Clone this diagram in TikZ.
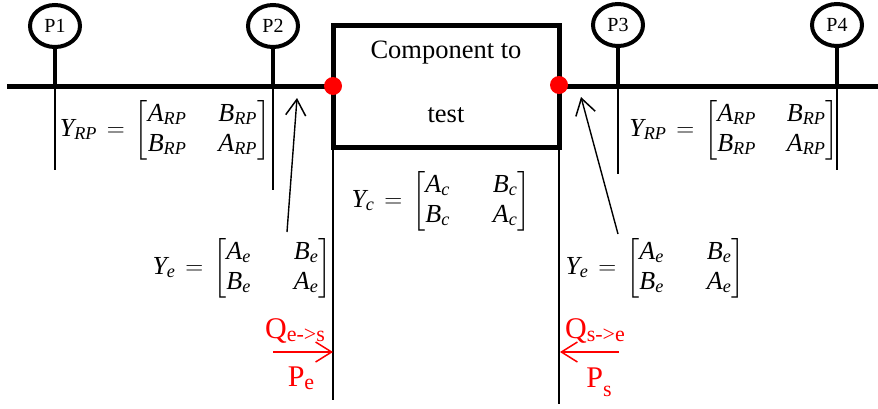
\documentclass[tikz,border=0pt]{standalone}
\usepackage{amsmath}
\usepackage{fontspec}
\setmainfont{Liberation Serif}
\usepackage{tikz}
\usetikzlibrary{arrows.meta,shapes.geometric}
\tikzset{
    port/.style={draw,ellipse,line width=4pt,fill=white,minimum width=50pt,minimum height=42pt,inner sep=0pt,font=\fontsize{20}{24}\selectfont},
    bus/.style={line width=5pt},
    stem/.style={line width=4pt},
    wire/.style={line width=1.4pt},
    junction/.style={circle,fill=red,minimum size=18pt,inner sep=0pt},
    eqn/.style={inner sep=0pt,font=\fontsize{26}{30}\selectfont},
    flow/.style={text=red,inner sep=0pt},
    lbl/.style={inner sep=0pt,font=\fontsize{26.5}{30}\selectfont}
}
\newcommand{\mv}[1]{\text{\itshape #1}}
\newcommand{\flowlbl}[3]{\fontsize{30}{34}\selectfont #1\fontsize{22}{26}\selectfont\raisebox{#3}{#2}}
\newcommand{\ymat}[2]{$\mv{Y}_{\mv{#1}}\hspace{3pt}=\hspace{3pt}\left[\begin{matrix} \mv{A}_{\mv{#1}} & \hspace{#2}\mv{B}_{\mv{#1}}\\ \mv{B}_{\mv{#1}} & \hspace{#2}\mv{A}_{\mv{#1}}\end{matrix}\right]$}
\begin{document}
\begin{tikzpicture}[x=1pt,y=-1pt,>={Straight Barb[length=16pt,width=20pt,line width=1.5pt]}]
        \useasboundingbox (0,0) rectangle (878,408);
        % bus
        \coordinate (busL) at (7,86);
        \coordinate (busR) at (878,86);
        \draw[bus] (busL) -- (busR);
        % component
        \draw[line width=5pt,fill=white] (333,25) rectangle (559,147);
        \node[lbl] (comptop) at (446,53) {Component to};
        \node[lbl] (compbot) at (446,115) {test};
        % ports
        \node[port] (p1) at (55,26) {P1};
        \node[port] (p2) at (273,26) {P2};
        \node[port] (p3) at (618,25) {P3};
        \node[port] (p4) at (837,25) {P4};
        \coordinate (t1) at (55,86);
        \coordinate (t2) at (273,86);
        \coordinate (t3) at (618,86);
        \coordinate (t4) at (837,86);
        \coordinate (e1) at (55,170);
        \coordinate (e2) at (273,190);
        \coordinate (e3) at (618,174);
        \coordinate (e4) at (837,170);
        \draw[stem] (p1) -- (t1);
        \draw[stem] (p2) -- (t2);
        \draw[stem] (p3) -- (t3);
        \draw[stem] (p4) -- (t4);
        \draw[wire] (t1) -- (e1);
        \draw[wire] (t2) -- (e2);
        \draw[wire] (t3) -- (e3);
        \draw[wire] (t4) -- (e4);
        % planes
        \node[junction] (sl) at (333,86) {};
        \node[junction] (sr) at (559,85) {};
        \coordinate (cl) at (333,147);
        \coordinate (cr) at (559,147);
        \coordinate (cle) at (333,400);
        \coordinate (cre) at (559,404);
        \draw[wire] (cl) -- (cle);
        \draw[wire] (cr) -- (cre);
        % equations
        \node[eqn] (yrpl) at (165,130) {\ymat{RP}{22pt}};
        \node[eqn] (yrpr) at (734,130) {\ymat{RP}{21pt}};
        \node[eqn] (yc) at (441,201) {\ymat{c}{33pt}};
        \node[eqn] (yel) at (242,268) {\ymat{e}{33pt}};
        \node[eqn] (yer) at (655,268) {\ymat{e}{33pt}};
        % arrows
        \coordinate (al) at (287,232);
        \coordinate (alt) at (297,98);
        \coordinate (ar) at (618,234);
        \coordinate (art) at (581,97);
        \draw[->,wire] (al) -- (alt);
        \draw[->,wire] (ar) -- (art);
        % flows
        \coordinate (fl) at (273,352);
        \coordinate (flt) at (333,352);
        \coordinate (fr) at (619,352);
        \coordinate (frt) at (560,352);
        \draw[->,red,wire] (fl) -- (flt);
        \draw[->,red,wire] (fr) -- (frt);
        \node[flow] (ql) at (295,331) {\flowlbl{Q}{e->s}{-3pt}};
        \node[flow] (pl) at (301,378) {\flowlbl{P}{e}{-3pt}};
        \node[flow] (qr) at (595,331) {\flowlbl{Q}{s->e}{-3pt}};
        \node[flow] (pr) at (599,382) {\flowlbl{P}{s}{-9pt}};
    \end{tikzpicture}
\end{document}
